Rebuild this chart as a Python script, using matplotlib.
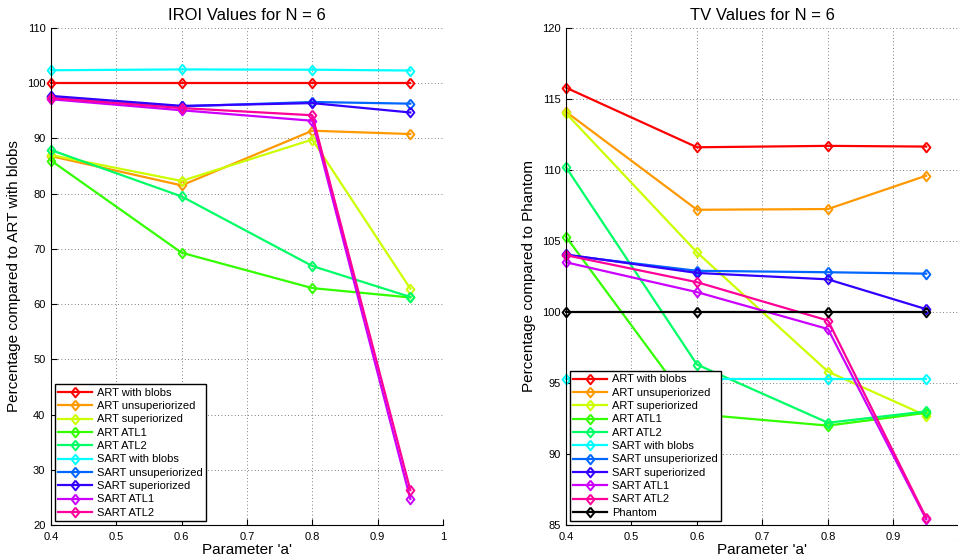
import numpy as np
import matplotlib
matplotlib.use("Agg")
import matplotlib.pyplot as plt

plt.rcParams['font.family'] = ['Liberation Sans', 'DejaVu Sans']

a_vals = [0.4, 0.6, 0.8, 0.95]

labels = ["ART with blobs", "ART unsuperiorized", "ART superiorized", "ART ATL1", "ART ATL2",
          "SART with blobs", "SART unsuperiorized", "SART superiorized", "SART ATL1", "SART ATL2"]

# MATLAB hsv(10)
colors = ["#ff0000", "#ff9900", "#ccff00", "#33ff00", "#00ff66",
          "#00ffff", "#0066ff", "#3300ff", "#cc00ff", "#ff0099"]

# IROI values (percentage of ART with blobs)
iroi_art_blobs = [100.0, 100.0, 100.0, 100.0]
iroi_art_unsup = [86.8, 81.5, 91.4, 90.8]
iroi_art_sup = [87.0, 82.3, 89.8, 62.8]
iroi_art_atl1 = [86.0, 69.3, 62.9, 61.2]
iroi_art_atl2 = [87.9, 79.5, 66.9, 61.3]
iroi_sart_blobs = [102.35, 102.5, 102.45, 102.3]
iroi_sart_unsup = [97.5, 95.8, 96.6, 96.3]
iroi_sart_sup = [97.7, 95.9, 96.4, 94.7]
iroi_sart_atl1 = [97.1, 95.1, 93.2, 24.7]
iroi_sart_atl2 = [97.3, 95.5, 94.2, 26.3]

# TV values (percentage of phantom)
tv_art_blobs = [115.8, 111.6, 111.7, 111.65]
tv_art_unsup = [114.1, 107.2, 107.25, 109.6]
tv_art_sup = [114.0, 104.2, 95.8, 92.7]
tv_art_atl1 = [105.3, 92.8, 92.0, 92.9]
tv_art_atl2 = [110.2, 96.3, 92.2, 93.0]
tv_sart_blobs = [95.3, 95.3, 95.3, 95.3]
tv_sart_unsup = [104.0, 102.9, 102.8, 102.7]
tv_sart_sup = [104.05, 102.75, 102.3, 100.2]
tv_sart_atl1 = [103.5, 101.4, 98.8, 85.4]
tv_sart_atl2 = [104.0, 102.1, 99.4, 85.5]
tv_phantom = [100.0, 100.0, 100.0, 100.0]

iroi = [iroi_art_blobs, iroi_art_unsup, iroi_art_sup, iroi_art_atl1, iroi_art_atl2,
        iroi_sart_blobs, iroi_sart_unsup, iroi_sart_sup, iroi_sart_atl1, iroi_sart_atl2]
tv = [tv_art_blobs, tv_art_unsup, tv_art_sup, tv_art_atl1, tv_art_atl2,
      tv_sart_blobs, tv_sart_unsup, tv_sart_sup, tv_sart_atl1, tv_sart_atl2]

# MATLAB style diamond (a bit narrower than tall)
diamond = [(0, 1), (0.8, 0), (0, -1), (-0.8, 0), (0, 1)]


def style_axes(ax, ylim, yticks):
    ax.set_xlim(0.4, 1.0)
    ax.set_ylim(*ylim)
    ax.set_xticks([0.4, 0.5, 0.6, 0.7, 0.8, 0.9, 1.0])
    ax.set_xticklabels(["0.4", "0.5", "0.6", "0.7", "0.8", "0.9", "1"])
    ax.set_yticks(yticks)
    ax.tick_params(direction="in", labelsize=8, length=4, width=0.8)
    ax.tick_params(axis="y", pad=4)
    ax.tick_params(axis="x", pad=5)
    ax.spines["top"].set_visible(False)
    ax.spines["right"].set_visible(False)
    ax.grid(True, linestyle=(0, (1, 3)), color="#555555", linewidth=0.6)
    ax.set_axisbelow(True)


def draw(ax, data, names, cols):
    for vals, name, c in zip(data, names, cols):
        ax.plot(a_vals, vals, color=c, lw=1.6, marker=diamond, markersize=7,
                markerfacecolor="none", markeredgewidth=1.4, label=name, clip_on=False)


fig = plt.figure(figsize=(9.58, 5.6), dpi=100)
ax1 = fig.add_axes([0.0532, 0.0625, 0.4092, 0.8875])
ax2 = fig.add_axes([0.5908, 0.0625, 0.4102, 0.8875])

draw(ax1, iroi, labels, colors)
style_axes(ax1, (20, 110), np.arange(20, 111, 10))
ax1.set_title("IROI Values for N = 6", fontsize=12, pad=6)
ax1.set_xlabel("Parameter 'a'", fontsize=11, labelpad=1)
ax1.set_ylabel("Percentage compared to ART with blobs", fontsize=11, labelpad=4)

draw(ax2, tv + [tv_phantom], labels + ["Phantom"], colors + ["#000000"])
style_axes(ax2, (85, 120), np.arange(85, 121, 5))
ax2.set_title("TV Values for N = 6", fontsize=12, pad=6)
ax2.set_xlabel("Parameter 'a'", fontsize=11, labelpad=1)
ax2.set_ylabel("Percentage compared to Phantom", fontsize=11, labelpad=4)

for ax in (ax1, ax2):
    leg = ax.legend(loc="lower left", fontsize=8, labelspacing=0.3, handlelength=3.0,
                    handletextpad=0.5, borderpad=0.3, borderaxespad=0.35,
                    fancybox=False, framealpha=1, edgecolor="black")
    leg.get_frame().set_linewidth(1.0)

fig.savefig("out.png", dpi=100)
